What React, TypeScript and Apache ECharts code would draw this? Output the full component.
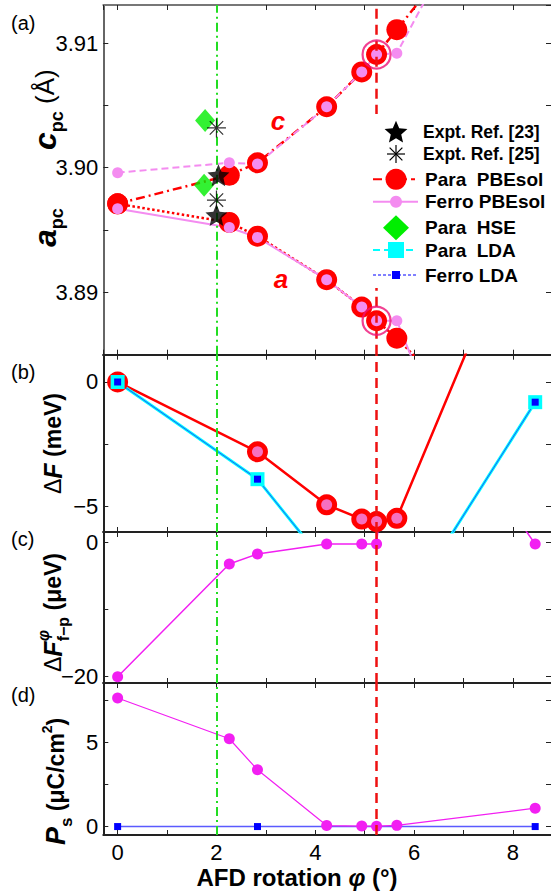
import React, { useEffect, useRef } from 'react';
import * as echarts from 'echarts';

const FONT = '"Liberation Sans", Arial, Helvetica, sans-serif';

// ---------- axes ----------
const X_RANGE = [-0.29, 8.77];
const xTickLabels = [0, 2, 4, 6, 8];
const VLINE_HSE = 2.0;
const VLINE_OPT = 5.24;

const yRangeA = [3.88497, 3.91308];
const yLabelsA = [3.89, 3.9, 3.91];
const yRangeB = [-6.02, 1.095];
const yLabelsB = [-5, 0];
const yRangeC = [-20.94, 1.53];
const yLabelsC = [-20, 0];
const yRangeD = [-0.5, 8.5];
const yLabelsD = [0, 5];

// ---------- (a) lattice constants ----------
const paraA = [[0, 3.8971], [2.26, 3.8956], [2.83, 3.8945], [4.23, 3.891], [4.94, 3.8888], [5.24, 3.8877], [5.65, 3.8863], [8.45, 3.875]];
const paraC = [[0, 3.8971], [2.26, 3.8994], [2.83, 3.9004], [4.23, 3.9049], [4.94, 3.9077], [5.24, 3.9091], [5.65, 3.9111], [8.45, 3.925]];
const ferroA = [[0, 3.8967], [2.26, 3.8952], [2.83, 3.8944], [4.23, 3.891], [4.94, 3.8888], [5.24, 3.8877], [5.65, 3.8877], [8.45, 3.86]];
const ferroC = [[0, 3.8996], [2.26, 3.9004], [2.83, 3.9003], [4.23, 3.9049], [4.94, 3.9077], [5.24, 3.9091], [5.65, 3.9092], [8.45, 3.93]];
const expt23 = [[2.04, 3.8994], [2.0, 3.8962]];
const expt25 = [[2.0, 3.9032], [2.0, 3.8974]];
const hse = [[1.77, 3.9038], [1.75, 3.8986]];
const circled = [[5.24, 3.9091], [5.24, 3.8877]];

// ---------- (b) free energy ----------
const dFpara = [[0, 0], [2.83, -2.8], [4.23, -4.93], [4.94, -5.5], [5.24, -5.6], [5.65, -5.47], [8.45, 7.8]];
const dFferro = [[0, 0], [2.83, -2.8], [4.23, -4.93], [4.94, -5.5], [5.24, -5.6], [5.65, -5.47]];
const dFlda = [[0, 0], [2.83, -3.9], [5.42, -10.3], [8.45, -0.81]];

// ---------- (c) ferro - para ----------
const dFfp = [[0, -20.0], [2.26, -3.23], [2.83, -1.74], [4.23, -0.25], [4.94, -0.25], [5.24, -0.25], [5.65, 29], [8.45, -0.25]];

// ---------- (d) polarization ----------
const Ps = [[0, 7.61], [2.26, 5.2], [2.83, 3.36], [4.23, 0.06], [4.94, 0.03], [5.24, 0.02], [5.65, 0.07], [8.45, 1.09]];
const PsLda = [[0, 0], [2.83, 0], [8.45, 0]];

const legendLabels = ['Expt. Ref. [23]', 'Expt. Ref. [25]', 'Para\u00a0\u00a0PBEsol', 'Ferro PBEsol', 'Para\u00a0\u00a0HSE', 'Para\u00a0\u00a0LDA', 'Ferro LDA'];

const RED = '#ff0000';
const PINK = '#f48cf0';
const MAGENTA = '#f21ff2';
const CYAN = '#00ffff';
const BLUE = '#0000ff';
const GREEN = '#00ee00';
const RING = '#ee1177';

const PANEL_TOPS = [5, 354.7, 532, 683];
const PANEL_BOTTOM = 835;
const GRID_LEFT = 103.3;

function starPath(R: number, r: number) {
  let d = '';
  for (let k = 0; k < 10; k++) {
    const ang = -Math.PI / 2 + (k * Math.PI) / 5;
    const rad = k % 2 === 0 ? R : r;
    d += (k === 0 ? 'M' : 'L') + (R + rad * Math.cos(ang)).toFixed(2) + ' ' + (R + rad * Math.sin(ang)).toFixed(2) + ' ';
  }
  return 'path://' + d + 'Z';
}
function starPts(cx: number, cy: number, R: number, r: number) {
  const pts: number[][] = [];
  for (let k = 0; k < 10; k++) {
    const ang = -Math.PI / 2 + (k * Math.PI) / 5;
    const rad = k % 2 === 0 ? R : r;
    pts.push([cx + rad * Math.cos(ang), cy + rad * Math.sin(ang)]);
  }
  return pts;
}
const ASTERISK = 'path://M10 0L10 20M0 10L20 10M2.93 2.93L17.07 17.07M2.93 17.07L17.07 2.93';

let measureCtx: CanvasRenderingContext2D | null = null;
function textWidth(text: string, size: number, bold: boolean, italic: boolean) {
  if (!measureCtx) measureCtx = document.createElement('canvas').getContext('2d');
  if (!measureCtx) return text.length * size * 0.55;
  measureCtx.font = `${italic ? 'italic ' : ''}${bold ? 'bold ' : ''}${size}px ${FONT}`;
  return measureCtx.measureText(text).width;
}

type Piece = { t: string; s: number; b?: boolean; i?: boolean; dx?: number; stack?: boolean; color?: string };
function vertLabel(pieces: Piece[], baseX: number, startY: number) {
  const els: any[] = [];
  let cur = startY;
  let prevStart = startY;
  pieces.forEach((p) => {
    const w = textWidth(p.t, p.s, !!p.b, !!p.i);
    let y0 = cur;
    if (p.stack) {
      y0 = prevStart;
      cur = Math.min(cur, prevStart - w);
    } else {
      prevStart = y0;
      cur = cur - w;
    }
    els.push({
      type: 'text',
      x: baseX + (p.dx || 0),
      y: y0,
      rotation: Math.PI / 2,
      z: 100,
      style: {
        text: p.t,
        fontSize: p.s,
        fontWeight: p.b ? 'bold' : 'normal',
        fontStyle: p.i ? 'italic' : 'normal',
        fontFamily: FONT,
        fill: p.color || '#000',
        textAlign: 'left',
        textVerticalAlign: 'middle',
        align: 'left',
        verticalAlign: 'middle',
      },
    });
  });
  return els;
}

function fmtMinus(v: number) {
  return String(v).replace('-', '\u2212');
}

function mkX(gi: number, pos: 'top' | 'bottom', showLabels: boolean, lineColor: string) {
  return {
    type: 'value',
    gridIndex: gi,
    position: pos,
    min: X_RANGE[0],
    max: X_RANGE[1],
    minInterval: 1,
    maxInterval: 1,
    axisLine: { show: true, onZero: false, lineStyle: { color: lineColor, width: 2 } },
    axisTick: { show: true, inside: true, length: 5, lineStyle: { color: '#222', width: 1 } },
    axisLabel: {
      show: showLabels,
      showMinLabel: false,
      showMaxLabel: false,
      fontSize: 22,
      color: '#000',
      fontFamily: FONT,
      margin: 6,
      formatter: (v: number) => {
        const l = xTickLabels.find((t) => Math.abs(t - v) < 1e-6);
        return l === undefined ? '' : String(l);
      },
    },
    splitLine: { show: false },
  };
}

function mkY(gi: number, pos: 'left' | 'right', range: number[], step: number, labels: number[], fmt: (v: number) => string, lineColor: string) {
  return {
    type: 'value',
    gridIndex: gi,
    position: pos,
    min: range[0],
    max: range[1],
    minInterval: step,
    maxInterval: step,
    axisLine: { show: pos === 'left', onZero: false, lineStyle: { color: lineColor, width: 2 } },
    axisTick: { show: true, inside: true, length: 5, lineStyle: { color: '#222', width: 1 } },
    axisLabel: {
      show: pos === 'left',
      showMinLabel: false,
      showMaxLabel: false,
      fontSize: 22,
      color: '#000',
      fontFamily: FONT,
      margin: 5,
      formatter: (v: number) => {
        const l = labels.find((t) => Math.abs(t - v) < 1e-7);
        return l === undefined ? '' : fmt(l);
      },
    },
    splitLine: { show: false },
  };
}

export default function App() {
  const ref = useRef<HTMLDivElement>(null);
  useEffect(() => {
    if (!ref.current) return;
    const chart = echarts.init(ref.current, null, { renderer: 'svg' });

    const grids = PANEL_TOPS.map((top, i) => {
      const bottomEdge = i < 3 ? PANEL_TOPS[i + 1] : PANEL_BOTTOM;
      return { left: GRID_LEFT, right: 0, top, height: bottomEdge - top, containLabel: false, outerBoundsMode: 'none' };
    });

    const xAxes: any[] = [];
    const yAxes: any[] = [];
    const yDefs = [
      { range: yRangeA, step: 0.005, labels: yLabelsA, fmt: (v: number) => v.toFixed(2) },
      { range: yRangeB, step: 2.5, labels: yLabelsB, fmt: fmtMinus },
      { range: yRangeC, step: 10, labels: yLabelsC, fmt: fmtMinus },
      { range: yRangeD, step: 2.5, labels: yLabelsD, fmt: fmtMinus },
    ];
    for (let i = 0; i < 4; i++) {
      const lc = i === 0 ? '#666' : '#222';
      xAxes.push(mkX(i, 'bottom', i === 3, '#222'));
      xAxes.push(mkX(i, 'top', false, i === 0 ? '#777' : '#222'));
      yAxes.push(mkY(i, 'left', yDefs[i].range, yDefs[i].step, yDefs[i].labels, yDefs[i].fmt, lc));
      yAxes.push(mkY(i, 'right', yDefs[i].range, yDefs[i].step, yDefs[i].labels, yDefs[i].fmt, lc));
    }

    const ax = (i: number) => ({ xAxisIndex: 2 * i, yAxisIndex: 2 * i });

    const series: any[] = [
      // (a)
      { type: 'line', ...ax(0), data: paraA, symbol: 'circle', symbolSize: 21, itemStyle: { color: RED }, lineStyle: { color: RED, width: 2.5, type: 'dotted' } },
      { type: 'line', ...ax(0), data: paraC, symbol: 'circle', symbolSize: 21, itemStyle: { color: RED }, lineStyle: { color: RED, width: 2.5, type: [9, 4, 2, 4] } },
      { type: 'line', ...ax(0), data: ferroA, symbol: 'circle', symbolSize: 11, itemStyle: { color: PINK }, lineStyle: { color: PINK, width: 2 } },
      { type: 'line', ...ax(0), data: ferroC, symbol: 'circle', symbolSize: 11, itemStyle: { color: PINK }, lineStyle: { color: PINK, width: 2, type: [7, 4] } },
      { type: 'scatter', ...ax(0), data: hse, symbol: 'diamond', symbolSize: [20, 23], itemStyle: { color: GREEN }, z: 4 },
      { type: 'scatter', ...ax(0), data: expt23, symbol: starPath(10, 4.6), symbolSize: 22, itemStyle: { color: '#000' }, z: 5 },
      { type: 'scatter', ...ax(0), data: expt25, symbol: ASTERISK, symbolSize: 19, itemStyle: { color: 'transparent', borderColor: '#000', borderWidth: 1.2 }, z: 5 },
      { type: 'scatter', ...ax(0), data: circled, symbol: 'circle', symbolSize: 28, itemStyle: { color: 'transparent', borderColor: RING, borderWidth: 2.2 }, z: 5 },
      // (b)
      { type: 'line', ...ax(1), data: dFpara, symbol: 'circle', symbolSize: 21, itemStyle: { color: RED }, lineStyle: { color: RED, width: 2.5 } },
      { type: 'scatter', ...ax(1), data: dFferro, symbol: 'circle', symbolSize: 11, itemStyle: { color: PINK }, z: 3 },
      { type: 'line', ...ax(1), data: dFlda, symbol: 'rect', symbolSize: 14, itemStyle: { color: CYAN }, lineStyle: { color: CYAN, width: 3 }, z: 3 },
      { type: 'line', ...ax(1), data: dFlda, symbol: 'rect', symbolSize: 7, itemStyle: { color: BLUE }, lineStyle: { color: '#2255ff', width: 1 }, z: 3 },
      // (c)
      { type: 'line', ...ax(2), data: dFfp, symbol: 'circle', symbolSize: 11, itemStyle: { color: MAGENTA }, lineStyle: { color: MAGENTA, width: 1.5 } },
      // (d)
      { type: 'line', ...ax(3), data: PsLda, symbol: 'rect', symbolSize: 7, itemStyle: { color: BLUE }, lineStyle: { color: '#5a5aff', width: 1.5 } },
      { type: 'line', ...ax(3), data: Ps, symbol: 'circle', symbolSize: 11, itemStyle: { color: MAGENTA }, lineStyle: { color: MAGENTA, width: 1.2 } },
    ];

    for (let i = 0; i < 4; i++) {
      series.push({
        type: 'line',
        ...ax(i),
        data: [],
        z: 8,
        silent: true,
        markLine: {
          silent: true,
          symbol: ['none', 'none'],
          label: { show: false },
          data: [
            { xAxis: VLINE_HSE, lineStyle: { color: '#22dd22', width: 2, type: [9, 4, 2, 4] } },
            { xAxis: VLINE_OPT, lineStyle: { color: '#ee1111', width: 2.5, type: [10, 6] } },
          ],
        },
      });
    }

    // ---------- graphic: legend, labels ----------
    const graphic: any[] = [];
    const rows = [131.7, 154, 179.3, 201.7, 227.7, 250, 275];
    const ix = 396;
    const tx = 423;
    graphic.push({ type: 'rect', z: 90, shape: { x: 371, y: 114, width: 180, height: 174 }, style: { fill: '#fff' } });
    graphic.push({ type: 'polygon', z: 100, shape: { points: starPts(ix, rows[0] + 1, 12, 5.5) }, style: { fill: '#000' } });
    const aR = 9;
    const aD = aR * Math.SQRT1_2;
    [[0, -aR, 0, aR], [-aR, 0, aR, 0], [-aD, -aD, aD, aD], [-aD, aD, aD, -aD]].forEach((l) => {
      graphic.push({ type: 'line', z: 100, shape: { x1: ix + l[0], y1: rows[1] + l[1], x2: ix + l[2], y2: rows[1] + l[3] }, style: { stroke: '#000', lineWidth: 1.2 } });
    });
    graphic.push({ type: 'line', z: 100, shape: { x1: 373, y1: rows[2], x2: 415, y2: rows[2] }, style: { stroke: RED, lineWidth: 2, lineDash: [9, 4, 2, 4] } });
    graphic.push({ type: 'circle', z: 101, shape: { cx: ix, cy: rows[2], r: 10.5 }, style: { fill: RED } });
    graphic.push({ type: 'line', z: 100, shape: { x1: 373, y1: rows[3], x2: 418, y2: rows[3] }, style: { stroke: PINK, lineWidth: 2 } });
    graphic.push({ type: 'circle', z: 101, shape: { cx: ix, cy: rows[3], r: 6 }, style: { fill: PINK } });
    graphic.push({ type: 'polygon', z: 100, shape: { points: [[ix, rows[4] - 12.5], [ix + 13, rows[4]], [ix, rows[4] + 12.5], [ix - 13, rows[4]]] }, style: { fill: GREEN } });
    graphic.push({ type: 'line', z: 100, shape: { x1: 373, y1: rows[5], x2: 417, y2: rows[5] }, style: { stroke: CYAN, lineWidth: 2, lineDash: [7, 4] } });
    graphic.push({ type: 'rect', z: 101, shape: { x: ix - 8, y: rows[5] - 8, width: 16, height: 16 }, style: { fill: CYAN } });
    graphic.push({ type: 'line', z: 100, shape: { x1: 373, y1: rows[6], x2: 416, y2: rows[6] }, style: { stroke: BLUE, lineWidth: 1, lineDash: [3, 2] } });
    graphic.push({ type: 'rect', z: 101, shape: { x: ix - 4, y: rows[6] - 4, width: 8, height: 8 }, style: { fill: BLUE } });
    legendLabels.forEach((lab, k) => {
      graphic.push({
        type: 'text', z: 102, x: k < 2 ? tx : tx + 2, y: rows[k],
        style: { text: lab, fontSize: k < 2 ? 17.5 : 19, fontWeight: 'bold', fontFamily: FONT, fill: '#000', textAlign: 'left', textVerticalAlign: 'middle', align: 'left', verticalAlign: 'middle' },
      });
    });

    // panel letters
    const letters = ['(a)', '(b)', '(c)', '(d)'];
    const letterY = [23, 372, 539, 695];
    letters.forEach((t, k) => {
      graphic.push({ type: 'text', z: 100, x: 11, y: letterY[k], style: { text: t, fontSize: 20, fontFamily: FONT, fill: '#000', textAlign: 'left', textVerticalAlign: 'middle', align: 'left', verticalAlign: 'middle' } });
    });

    // c / a annotations
    graphic.push({ type: 'text', z: 100, x: 278, y: 121, style: { text: 'c', fontSize: 26, fontWeight: 'bold', fontStyle: 'italic', fontFamily: FONT, fill: RED, textAlign: 'center', textVerticalAlign: 'middle', align: 'center', verticalAlign: 'middle' } });
    graphic.push({ type: 'text', z: 100, x: 281, y: 279, style: { text: 'a', fontSize: 26, fontWeight: 'bold', fontStyle: 'italic', fontFamily: FONT, fill: RED, textAlign: 'center', textVerticalAlign: 'middle', align: 'center', verticalAlign: 'middle' } });

    // y-axis titles
    graphic.push(...vertLabel([{ t: 'c', s: 32, b: true, i: true }, { t: 'pc', s: 18, b: true, dx: 12 }, { t: '\u00a0(Å)', s: 26 }], 45, 150));
    graphic.push(...vertLabel([{ t: 'a', s: 32, b: true, i: true }, { t: 'pc', s: 18, b: true, dx: 12 }], 45, 247));
    graphic.push(...vertLabel([{ t: 'Δ', s: 23 }, { t: 'F', s: 25, b: true, i: true }, { t: '\u00a0(meV)', s: 23, b: true }], 53, 494));
    graphic.push(...vertLabel([{ t: 'Δ', s: 23 }, { t: 'F', s: 25, b: true, i: true }, { t: 'φ', s: 16, b: true, i: true, dx: -10 }, { t: 'f−p', s: 16, b: true, dx: 10, stack: true }, { t: '\u00a0(μeV)', s: 23, b: true }], 53, 672));
    graphic.push(...vertLabel([{ t: 'P', s: 27, b: true, i: true }, { t: 's', s: 17, b: true, dx: 10 }, { t: '\u00a0(μC/cm', s: 23, b: true }, { t: '2', s: 14, b: true, dx: -9 }, { t: ')', s: 23, b: true }], 56, 845));

    // x-axis title
    graphic.push({
      type: 'text', z: 100, x: 297, y: 877,
      style: {
        text: '{b|AFD rotation }{i|φ}{b|\u00a0(°)}',
        rich: {
          b: { fontSize: 24, fontWeight: 'bold', fontFamily: FONT, fill: '#000' },
          i: { fontSize: 24, fontWeight: 'bold', fontStyle: 'italic', fontFamily: FONT, fill: '#000' },
        },
        textAlign: 'center', textVerticalAlign: 'middle', align: 'center', verticalAlign: 'middle',
      },
    });

    chart.setOption({
      animation: false,
      backgroundColor: '#fff',
      grid: grids,
      xAxis: xAxes,
      yAxis: yAxes,
      series,
      graphic,
    });
    return () => chart.dispose();
  }, []);
  return <div ref={ref} style={{ position: 'absolute', left: 0, top: 0, width: 551, height: 895 }} />;
}
